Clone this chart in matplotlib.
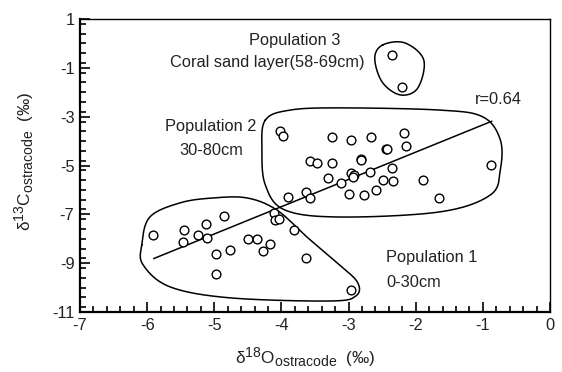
import numpy as np
import matplotlib
matplotlib.use("Agg")
import matplotlib.pyplot as plt
from matplotlib.ticker import MultipleLocator
import matplotlib._mathtext as _mt

_mt.SHRINK_FACTOR = 0.82

plt.rcParams['font.family'] = ['Liberation Sans', 'DejaVu Sans']
plt.rcParams['mathtext.fontset'] = 'custom'
plt.rcParams['mathtext.rm'] = 'Liberation Sans'
plt.rcParams['mathtext.it'] = 'Liberation Sans:italic'

# Population 1 (0-30cm)
pop1_x = [-5.91, -5.45, -5.47, -5.13, -5.24, -5.11, -4.86, -4.97, -4.97, -4.77,
          -4.50, -4.36, -4.17, -4.27, -4.11, -4.09, -4.03, -3.82, -3.63, -2.97]
pop1_y = [-7.83, -7.65, -8.15, -7.41, -7.83, -7.97, -7.08, -8.64, -9.45, -8.46,
          -8.02, -8.02, -8.21, -8.51, -6.96, -7.23, -7.20, -7.65, -8.78, -10.08]
# Population 2 (30-80cm)
pop2_x = [-4.02, -3.98, -3.25, -2.97, -2.66, -2.18, -2.45, -2.43, -2.15, -2.81,
          -2.81, -3.58, -3.47, -3.25, -2.68, -2.36, -2.97, -2.92, -2.93, -3.30,
          -3.11, -2.48, -2.34, -1.89, -0.88, -3.63, -3.58, -3.90, -3.00, -2.77,
          -2.59, -1.66]
pop2_y = [-3.57, -3.78, -3.85, -3.97, -3.85, -3.65, -4.34, -4.34, -4.21, -4.72,
          -4.76, -4.83, -4.88, -4.88, -5.27, -5.09, -5.32, -5.38, -5.48, -5.51,
          -5.70, -5.58, -5.65, -5.58, -4.97, -6.07, -6.34, -6.28, -6.15, -6.22,
          -6.00, -6.33]
# Population 3 (coral sand layer)
pop3_x = [-2.35, -2.21]
pop3_y = [-0.46, -1.77]

# Regression line end points
fit_x = [-5.90, -0.87]
fit_y = [-8.81, -3.19]

# Hand-drawn envelopes (control points)
env1_x = [-6.08, -5.96, -5.51, -5.02, -4.51, -4.07, -3.62, -3.17, -2.87, -2.89, -3.28, -4.77, -5.66, -6.06]
env1_y = [-8.25, -7.11, -6.53, -6.33, -6.33, -6.82, -7.93, -8.99, -9.77, -10.34, -10.55, -10.42, -9.97, -9.07]
env2_x = [-4.24, -3.87, -3.13, -1.64, -1.00, -0.74, -0.74, -0.89, -1.64, -3.13, -3.95, -4.24, -4.29]
env2_y = [-3.14, -2.73, -2.64, -2.73, -3.01, -3.95, -5.18, -6.21, -6.90, -7.11, -6.82, -5.80, -4.36]
env3_x = [-2.49, -2.16, -1.88, -1.97, -2.23, -2.50, -2.61]
env3_y = [-0.06, 0.02, -0.68, -1.83, -2.11, -1.58, -0.60]

x_ticks = [-7, -6, -5, -4, -3, -2, -1, 0]
y_ticks = [1, -1, -3, -5, -7, -9, -11]


def closed_spline(xs, ys, n=30):
    P = np.column_stack([xs, ys])
    m = len(P)
    out = []
    for i in range(m):
        p0, p1, p2, p3 = P[i - 1], P[i], P[(i + 1) % m], P[(i + 2) % m]
        t = np.linspace(0, 1, n, endpoint=False)[:, None]
        pts = 0.5 * ((2 * p1) + (-p0 + p2) * t + (2 * p0 - 5 * p1 + 4 * p2 - p3) * t ** 2
                     + (-p0 + 3 * p1 - 3 * p2 + p3) * t ** 3)
        out.append(pts)
    out = np.vstack(out + [out[0][:1]])
    return out[:, 0], out[:, 1]


fig = plt.figure(figsize=(5.62, 3.72), dpi=100)
ax = fig.add_axes([80 / 562, 60 / 372, 470 / 562, 293 / 372])

for ex, ey in [(env1_x, env1_y), (env2_x, env2_y), (env3_x, env3_y)]:
    sx, sy = closed_spline(ex, ey)
    ax.plot(sx, sy, color='black', lw=1.1)

ax.plot(fit_x, fit_y, color='black', lw=1.1)

for xs, ys in [(pop1_x, pop1_y), (pop2_x, pop2_y), (pop3_x, pop3_y)]:
    ax.plot(xs, ys, 'o', ms=6.3, mfc='white', mec='black', mew=1.0, zorder=3)

fs = 11.8
tc = '#222222'
ax.text(-3.80, 0.10, 'Population 3', ha='center', va='center', fontsize=fs, color=tc)
ax.text(-4.21, -0.80, 'Coral sand layer(58-69cm)', ha='center', va='center', fontsize=fs, color=tc)
ax.text(-5.05, -3.42, 'Population 2', ha='center', va='center', fontsize=fs, color=tc)
ax.text(-5.05, -4.40, '30-80cm', ha='center', va='center', fontsize=fs, color=tc)
ax.text(-2.44, -8.75, 'Population 1', ha='left', va='center', fontsize=fs, color=tc)
ax.text(-2.44, -9.78, '0-30cm', ha='left', va='center', fontsize=fs, color=tc)
ax.text(-1.12, -2.30, 'r=0.64', ha='left', va='center', fontsize=fs, color=tc)

ax.set_xlim(-7, 0)
ax.set_ylim(-11, 1)
ax.set_xticks(x_ticks)
ax.set_yticks(y_ticks)
ax.set_xticklabels([str(v) for v in x_ticks])
ax.set_yticklabels([str(v) for v in y_ticks])
ax.xaxis.set_minor_locator(MultipleLocator(0.2))
ax.yaxis.set_minor_locator(MultipleLocator(0.4))
ax.tick_params(which='both', direction='in', top=False, right=False, labelsize=fs,
               width=1.2, labelcolor=tc)
ax.tick_params(which='major', length=7, pad=4)
ax.tick_params(which='minor', length=4)
for s in ax.spines.values():
    s.set_linewidth(1.0)
ax.spines['left'].set_linewidth(1.6)
ax.spines['bottom'].set_linewidth(1.6)

ax.set_xlabel(r'$\mathregular{\delta^{18}O_{ostracode}}$  (‰)', fontsize=fs + 0.5, color=tc)
ax.set_ylabel(r'$\mathregular{\delta^{13}C_{ostracode}}$  (‰)', fontsize=fs + 0.5, color=tc)
ax.xaxis.set_label_coords(0.48, -0.115)
ax.yaxis.set_label_coords(-0.093, 0.515)

fig.savefig('out.png', dpi=100)
